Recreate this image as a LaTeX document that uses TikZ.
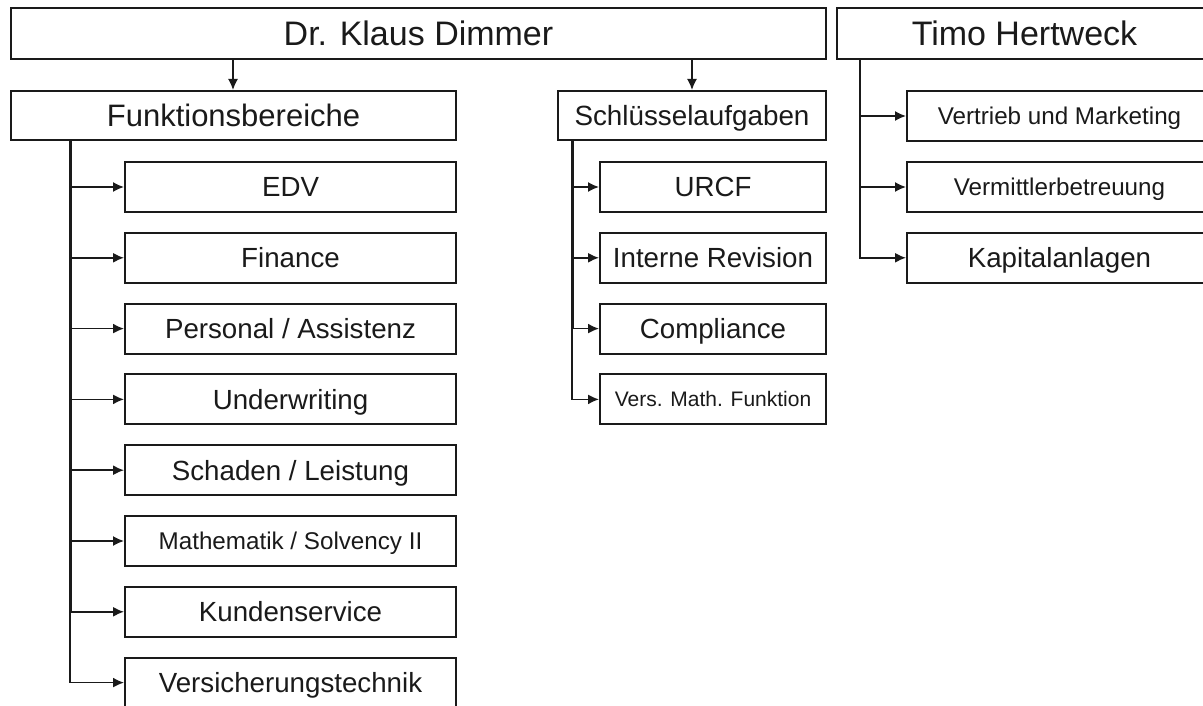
\documentclass[tikz,border=0pt]{standalone}
\usepackage{fontspec}
\setmainfont{Liberation Sans}
\usetikzlibrary{arrows.meta}
\definecolor{ink}{HTML}{1A1A1A}
\tikzset{
  box/.style={draw=ink, line width=2pt, fill=white, inner sep=0pt, text=ink, anchor=center, text depth=0pt},
  topbox/.style={box, minimum height=51pt, font=\fontsize{34}{40}\selectfont, text height=24.3pt},
  midbox/.style={box, minimum height=49pt},
  kid/.style={box, minimum height=50pt, font=\fontsize{27.7}{32}\selectfont, text height=19.8pt},
  kidsmall/.style={kid, font=\fontsize{24.2}{28}\selectfont, text height=17.3pt},
  kidtiny/.style={kid, font=\fontsize{21}{25}\selectfont, text height=15pt},
  lkid/.style={minimum width=331pt},
  mkid/.style={minimum width=226pt},
  rkid/.style={minimum width=305pt},
  conn/.style={draw=ink, line width=1.6pt, -{Latex[length=11pt,width=10pt]}},
  trunk/.style={draw=ink, line width=3pt},
}
\begin{document}
\begin{tikzpicture}[x=1pt,y=-1pt]
\path[use as bounding box] (0,0) rectangle (1203,706);
\clip (0,0) rectangle (1203,706);
\fill[white] (0,0) rectangle (1203,706);
% top level
\node[topbox, minimum width=815pt] (kd) at (418.5,33.5) {Dr. Klaus Dimmer};
\node[topbox, minimum width=375pt] (th) at (1024.5,33.5) {Timo Hertweck};
% second level
\node[midbox, minimum width=445pt, font=\fontsize{31}{36}\selectfont, text height=22.2pt] (fb) at (233.5,115.5) {Funktionsbereiche};
\node[midbox, minimum width=268pt, font=\fontsize{27.8}{32}\selectfont, text height=19.9pt] (sa) at (692,115.5) {Schlüsselaufgaben};
% left children
\node[kid, lkid] (edv) at (290.5,187) {EDV};
\node[kid, lkid] (fin) at (290.5,257.8) {Finance};
\node[kid, lkid] (pers) at (290.5,328.6) {Personal / Assistenz};
\node[kid, lkid] (uw) at (290.5,399.4) {Underwriting};
\node[kid, lkid] (sch) at (290.5,470.2) {Schaden / Leistung};
\node[kidsmall, lkid] (math) at (290.5,541) {Mathematik / Solvency II};
\node[kid, lkid] (kund) at (290.5,611.8) {Kundenservice};
\node[kid, lkid] (vt) at (290.5,682.6) {Versicherungstechnik};
% middle children
\node[kid, mkid] (urcf) at (713,187) {URCF};
\node[kid, mkid] (rev) at (713,257.8) {Interne Revision};
\node[kid, mkid] (comp) at (713,328.6) {Compliance};
\node[kidtiny, mkid] (vmf) at (713,399.4) {Vers. Math. Funktion};
% right children
\node[kidsmall, rkid] (vm) at (1059.5,116) {Vertrieb und Marketing};
\node[kidsmall, rkid] (vb) at (1059.5,187) {Vermittlerbetreuung};
\node[kid, rkid] (ka) at (1059.5,257.8) {Kapitalanlagen};
% connectors top -> second level
\draw[conn] ([xshift=-185.5pt]kd.south) -- ([xshift=-0.5pt]fb.north);
\draw[conn] ([xshift=273.5pt]kd.south) -- (sa.north);
% left trunk
\coordinate (lt) at ([xshift=60pt]fb.south west);
\draw[trunk] (lt) -- (lt |- kund.west);
\foreach \c in {edv,fin,pers,uw,sch,math,kund,vt}
  \draw[conn] (lt) |- (\c.west);
% middle trunk
\coordinate (mt) at ([xshift=15pt]sa.south west);
\draw[trunk] (mt) -- (mt |- comp.west);
\foreach \c in {urcf,rev,comp,vmf}
  \draw[conn] (mt) |- (\c.west);
% right trunk
\coordinate (rt) at ([xshift=24pt]th.south west);
\foreach \c in {vm,vb,ka}
  \draw[conn] (rt) |- (\c.west);
\end{tikzpicture}
\end{document}
